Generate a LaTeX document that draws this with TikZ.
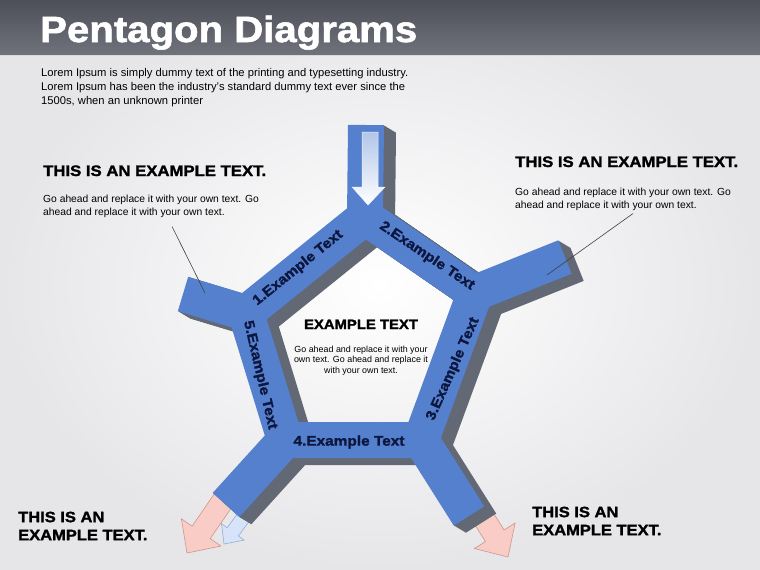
\documentclass[tikz,border=0pt]{standalone}
\usepackage{fontspec}
\setmainfont{Liberation Sans}
\newfontfamily\heavyfont{Liberation Sans}[FakeStretch=1.1, BoldFeatures={FakeBold=1.6}]
\usepackage{tikz}
\usepackage{xcolor}

\definecolor{bgGray}{RGB}{230,230,233}
\definecolor{barTop}{RGB}{76,79,87}
\definecolor{barBottom}{RGB}{112,115,123}
\definecolor{faceBlue}{RGB}{84,128,206}
\definecolor{sideGray}{RGB}{98,104,116}
\definecolor{labelNavy}{RGB}{12,22,62}
\definecolor{pinkFill}{RGB}{250,204,198}
\definecolor{pinkLine}{RGB}{205,150,140}
\definecolor{paleBlue}{RGB}{214,227,248}
\definecolor{paleLine}{RGB}{150,172,212}

\tikzset{
  heading/.style={font=\heavyfont\bfseries\fontsize{15.2}{18}\selectfont, inner sep=0pt},
  note/.style={font=\fontsize{10.3}{13}\selectfont, align=left, inner sep=0pt},
  bandlabel/.style={text=labelNavy, font=\heavyfont\bfseries\fontsize{14}{14}\selectfont, inner sep=0pt},
  callout/.style={draw=black!75, line width=0.6pt},
  pinkarrow/.style={fill=pinkFill, draw=pinkLine, line width=0.6pt},
  palearrow/.style={fill=paleBlue, draw=paleLine, line width=0.6pt},
  pentaframe/.pic={
    \draw[pic actions, line width=36pt, line join=miter]
      (365,217) -- (475,293) -- (421,440) -- (285,440) -- (246,313) -- cycle
      (365,217) -- (366,125)
      (475,293) -- (565,257)
      (421,440) -- (469,516)
      (285,440) -- (226,505)
      (246,313) -- (183,294);
  }
}

\begin{document}
\begin{tikzpicture}[x=1pt, y=-1pt]
\useasboundingbox (0,0) rectangle (760,570);

% page and title bar
\shade[inner color=white, outer color=bgGray] (0,0) rectangle (760,570);
\shade[top color=barTop, bottom color=barBottom] (0,0) rectangle (760,55);
\draw[white!85!black, line width=1pt] (0,55.5) -- (760,55.5);
\node[anchor=base west, inner sep=0pt, text=white,
  font=\heavyfont\bfseries\fontsize{36.5}{40}\selectfont] (title) at (40,42) {Pentagon Diagrams};

\node[anchor=north west, align=left, inner sep=0pt, font=\fontsize{11.2}{14}\selectfont] (intro) at (41,68)
  {Lorem Ipsum is simply dummy text of the printing and typesetting industry.\\
   Lorem Ipsum has been the industry's standard dummy text ever since the\\
   1500s, when an unknown printer};

% arrows leaving the bottom arms
\begin{scope}[shift={(224,544)}, rotate=-126]
  \draw[palearrow] (0,0) -- (-15,14) -- (-15,7) -- (-50,7) -- (-50,-7) -- (-15,-7) -- (-15,-14) -- cycle;
\end{scope}
\begin{scope}[shift={(187,553)}, rotate=-124.5]
  \draw[pinkarrow] (0,0) -- (-25,24) -- (-25,11) -- (-72,11) -- (-72,-11) -- (-25,-11) -- (-25,-24) -- cycle;
\end{scope}
\begin{scope}[shift={(508,557)}, rotate=-58]
  \draw[pinkarrow] (0,0) -- (-25,24) -- (-25,11) -- (-62,11) -- (-62,-11) -- (-25,-11) -- (-25,-24) -- cycle;
\end{scope}

% the frame: grey depth, then the blue face
\foreach \k in {12,11,...,1}
  \pic[draw=sideGray] at (\k,0.6*\k) {pentaframe};
\pic[draw=faceBlue] at (0,0) {pentaframe};

% arrow in the top arm
\draw[draw=white!90!faceBlue, line width=0.5pt, top color=faceBlue!45!white, bottom color=white]
  (362,132) -- (378,132) -- (378,187) -- (385,187) -- (368,205) -- (352,187) -- (362,187) -- cycle;

% labels on the bands
\node[bandlabel, rotate=39] (lab1) at (298,268) {1.Example Text};
\node[bandlabel, rotate=-34] (lab2) at (427,256) {2.Example Text};
\node[bandlabel, rotate=66] (lab3) at (453,369) {3.Example Text};
\node[bandlabel] (lab4) at (349,442) {4.Example Text};
\node[bandlabel, rotate=-77] (lab5) at (260,375) {5.Example Text};

% centre text
\node[heading, font=\heavyfont\bfseries\fontsize{13.5}{16}\selectfont, anchor=base] (chead) at (361,329) {EXAMPLE TEXT};
\node[note, align=center, font=\fontsize{8.9}{10.7}\selectfont, anchor=north] (cbody) at (361,345.5)
  {Go ahead and replace it with your\\own text. Go ahead and replace it\\with your own text.};

% side notes
\node[heading, anchor=base west] (lhead) at (43,176) {THIS IS AN EXAMPLE TEXT.};
\node[note, anchor=north west] (lbody) at (43,194.5)
  {Go ahead and replace it with your own text. Go\\ahead and replace it with your own text.};
\node[heading, anchor=base west] (rhead) at (515,167) {THIS IS AN EXAMPLE TEXT.};
\node[note, anchor=north west] (rbody) at (515,187.5)
  {Go ahead and replace it with your own text. Go\\ahead and replace it with your own text.};

\coordinate (lpin) at (205,293);
\coordinate (rpin) at (547,275);
\draw[callout] ([shift={(21pt,-9pt)}]lbody.south) -- (lpin);
\draw[callout] ([shift={(10pt,-3pt)}]rbody.south) -- (rpin);

% bottom notes
\node[heading, font=\heavyfont\bfseries\fontsize{15}{18}\selectfont, align=left, anchor=north west] (blnote) at (18,511.5)
  {THIS IS AN\\EXAMPLE TEXT.};
\node[heading, font=\heavyfont\bfseries\fontsize{15}{18}\selectfont, align=left, anchor=north west] (brnote) at (532,506.5)
  {THIS IS AN\\EXAMPLE TEXT.};

\end{tikzpicture}
\end{document}
